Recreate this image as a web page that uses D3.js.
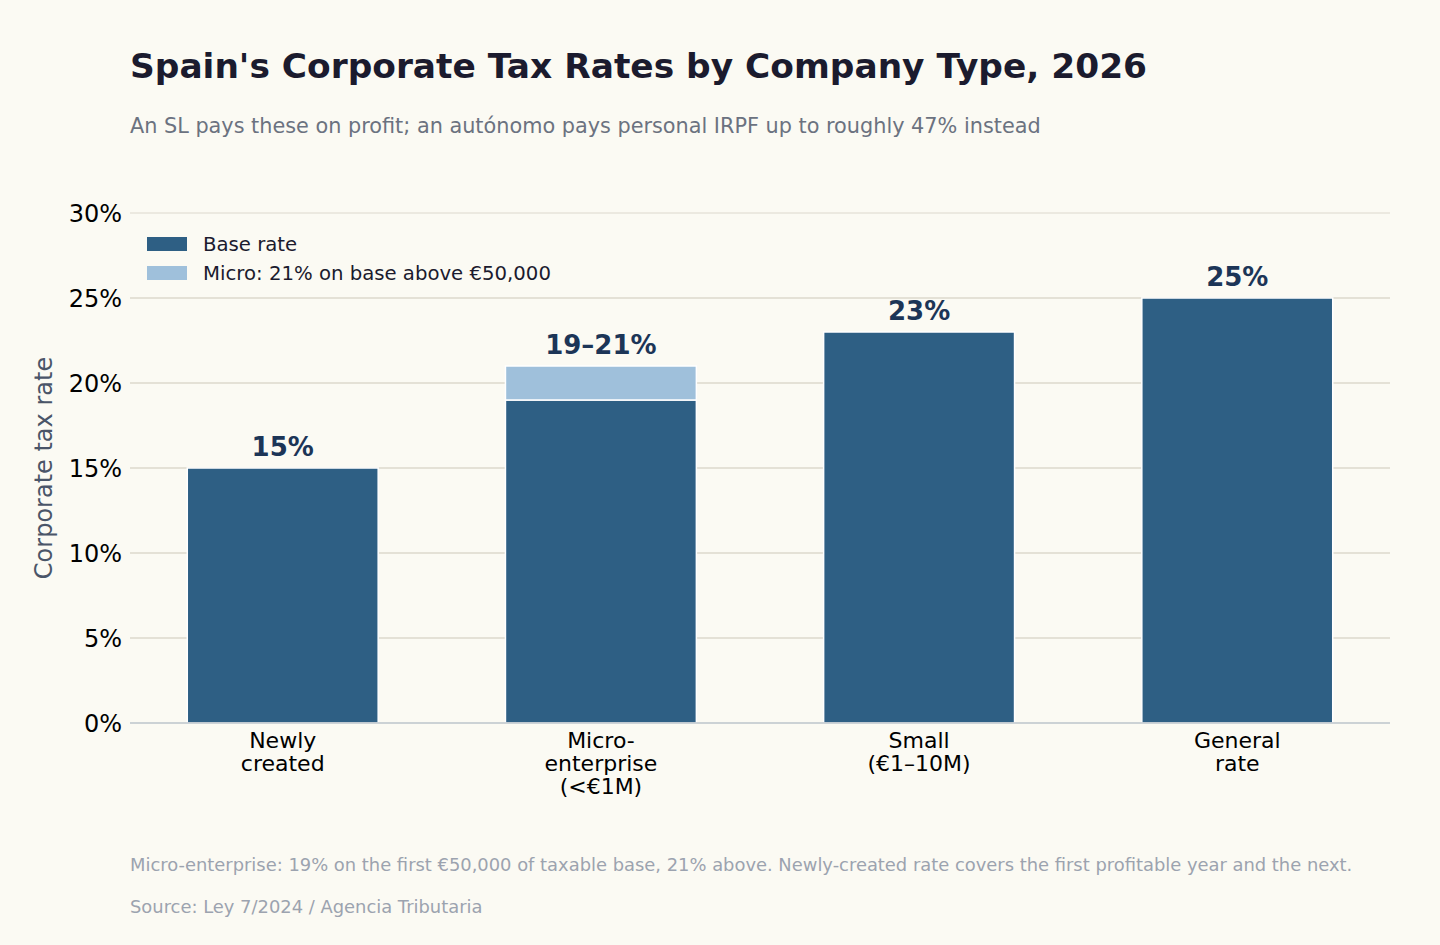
<!DOCTYPE html>
<html>
<head>
<meta charset="utf-8">
<script src="https://cdn.jsdelivr.net/npm/d3@7"></script>
<style>
  html, body { margin: 0; padding: 0; background: #fbfaf3; }
  svg { display: block; font-family: "DejaVu Sans", sans-serif; }
</style>
</head>
<body>
<svg id="chart"></svg>
<script>
// Data
const categories = ["Newly\ncreated", "Micro-\nenterprise\n(<€1M)", "Small\n(€1–10M)", "General\nrate"];
const baseRates = [15, 19, 23, 25];
const microExtra = [0, 2, 0, 0];   // 21% on base above €50,000
const valueLabels = ["15%", "19–21%", "23%", "25%"];
const yTicks = [0, 5, 10, 15, 20, 25, 30];

const width = 1440, height = 945;
const margin = { top: 213, right: 50, bottom: 222, left: 130 };
const innerW = width - margin.left - margin.right;
const innerH = height - margin.top - margin.bottom;

const dark = "#2e5f84", light = "#9fc0db";

const svg = d3.select("#chart")
    .attr("width", width)
    .attr("height", height);

svg.append("rect").attr("width", width).attr("height", height).attr("fill", "#fbfaf3");

// Title + subtitle
svg.append("text")
    .attr("x", 130).attr("y", 78)
    .attr("font-size", 34.4).attr("font-weight", "bold")
    .attr("fill", "#1b1b2e")
    .text("Spain's Corporate Tax Rates by Company Type, 2026");

svg.append("text")
    .attr("x", 130).attr("y", 133)
    .attr("font-size", 20.8)
    .attr("fill", "#6b7280")
    .text("An SL pays these on profit; an autónomo pays personal IRPF up to roughly 47% instead");

const g = svg.append("g").attr("transform", `translate(${margin.left},${margin.top})`);

// Scales (bars span 0.6 of each step, padding like matplotlib xlim)
const x = d3.scaleLinear().domain([-0.48, categories.length - 0.52]).range([0, innerW]);
const y = d3.scaleLinear().domain([0, 30]).range([innerH, 0]);
const barW = x(0.6) - x(0);

// Gridlines
g.selectAll(".grid")
    .data(yTicks.filter(d => d > 0))
    .enter().append("line")
    .attr("x1", 0).attr("x2", innerW)
    .attr("y1", d => y(d)).attr("y2", d => y(d))
    .attr("stroke", "#dcd8cd")
    .attr("stroke-width", d => d === 30 ? 1 : 1.6);

// Y axis
const yAxis = g.append("g")
    .call(d3.axisLeft(y).tickValues(yTicks).tickFormat(d => d + "%").tickSize(0).tickPadding(8));
yAxis.select(".domain").remove();
yAxis.selectAll("text")
    .attr("font-size", 24).attr("fill", "#000")
    .attr("font-family", "DejaVu Sans, sans-serif")
    .attr("dy", "0.36em");

// Bars: base
g.selectAll(".bar-base")
    .data(baseRates)
    .enter().append("rect")
    .attr("x", (d, i) => x(i) - barW / 2)
    .attr("y", d => y(d))
    .attr("width", barW)
    .attr("height", d => y(0) - y(d))
    .attr("fill", dark)
    .attr("stroke", "#ffffff").attr("stroke-width", 1.5);

// Bars: micro upper bracket
g.selectAll(".bar-extra")
    .data(microExtra.map((v, i) => ({ v, i })).filter(d => d.v > 0))
    .enter().append("rect")
    .attr("x", d => x(d.i) - barW / 2)
    .attr("y", d => y(baseRates[d.i] + d.v))
    .attr("width", barW)
    .attr("height", d => y(baseRates[d.i]) - y(baseRates[d.i] + d.v))
    .attr("fill", light)
    .attr("stroke", "#ffffff").attr("stroke-width", 1.5);

// Baseline
g.append("line")
    .attr("x1", 0).attr("x2", innerW)
    .attr("y1", y(0)).attr("y2", y(0))
    .attr("stroke", "#bcc4cb").attr("stroke-width", 1.6);

// Value labels
g.selectAll(".val")
    .data(valueLabels)
    .enter().append("text")
    .attr("x", (d, i) => x(i))
    .attr("y", (d, i) => y(baseRates[i] + microExtra[i]) - 12)
    .attr("text-anchor", "middle")
    .attr("font-size", 26).attr("font-weight", "bold")
    .attr("fill", "#1c3557")
    .text(d => d);

// X tick labels
const xl = g.selectAll(".xlab")
    .data(categories)
    .enter().append("text")
    .attr("text-anchor", "middle")
    .attr("font-size", 22).attr("fill", "#000")
    .attr("transform", (d, i) => `translate(${x(i)},${innerH + 25})`);
xl.selectAll("tspan")
    .data(d => d.split("\n"))
    .enter().append("tspan")
    .attr("x", 0)
    .attr("dy", (d, i) => i === 0 ? 0 : 23)
    .text(d => d);

// Y axis label
svg.append("text")
    .attr("transform", `translate(52,${margin.top + innerH / 2}) rotate(-90)`)
    .attr("text-anchor", "middle")
    .attr("font-size", 24).attr("fill", "#4a5568")
    .text("Corporate tax rate");

// Legend
const legendItems = [
    { label: "Base rate", color: dark },
    { label: "Micro: 21% on base above €50,000", color: light }
];
const legend = g.append("g").attr("transform", "translate(17,24)");
legend.selectAll("rect")
    .data(legendItems)
    .enter().append("rect")
    .attr("x", 0).attr("y", (d, i) => i * 29)
    .attr("width", 40).attr("height", 14)
    .attr("fill", d => d.color);
legend.selectAll("text")
    .data(legendItems)
    .enter().append("text")
    .attr("x", 56).attr("y", (d, i) => i * 29 + 14)
    .attr("font-size", 19.7).attr("fill", "#1b1b2e")
    .text(d => d.label);

// Footnotes
svg.append("text")
    .attr("x", 130).attr("y", 871)
    .attr("font-size", 17.9).attr("fill", "#9ca3af")
    .text("Micro-enterprise: 19% on the first €50,000 of taxable base, 21% above. Newly-created rate covers the first profitable year and the next.");
svg.append("text")
    .attr("x", 130).attr("y", 913)
    .attr("font-size", 17.9).attr("fill", "#9ca3af")
    .text("Source: Ley 7/2024 / Agencia Tributaria");
</script>
</body>
</html>
